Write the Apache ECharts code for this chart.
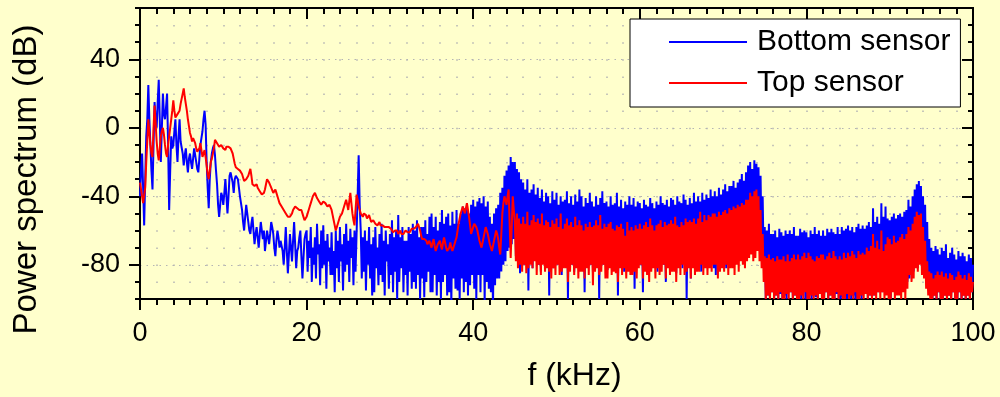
<!DOCTYPE html>
<html>
<head>
<meta charset="utf-8">
<title>Power spectrum</title>
<script src="https://cdn.jsdelivr.net/npm/echarts@6/dist/echarts.min.js"></script>
<style>
  html, body { margin: 0; padding: 0; background: #ffffcc; }
  #target { width: 1000px; height: 397px; }
</style>
</head>
<body>
<div id="target"></div>
<script>
// spectrum sampled every 0.125 kHz, 0 .. 100 kHz (801 points), one row per kHz
const FREQ_STEP = 0.125;
const seriesNames = ["Bottom sensor", "Top sensor"];
const xTicks = [0, 20, 40, 60, 80, 100];
const yTicks = [-80, -40, 0, 40];

// Bottom sensor (dB)
const bottomSensor = [
  -40, -25, -15, -35, -57, -30, -5, 5,
  25, 5, -10, -25, -36, -10, 15, 5,
  0, 15, 28, 5, -20, 0, 20, 8,
  5, 12, 20, -10, -48, -25, -5, -12,
  -10, -2, 5, -10, -20, -5, 5, -8,
  -7, -15, -22, -16, -12, -20, -26, -18,
  -15, -20, -24, -18, -12, -16, -20, -24,
  -26, -18, -10, -6, -2, 5, 10, 2,
  -20, -35, -47, -30, -20, -15, -12, -10,
  -16, -25, -33, -45, -52, -45, -38, -40,
  -45, -38, -30, -40, -50, -40, -28, -26,
  -26, -32, -38, -30, -28, -27, -30, -35,
  -40, -44, -48, -55, -60, -52, -45, -50,
  -55, -60, -62, -56, -52, -60, -68, -62,
  -58, -64, -70, -62, -55, -60, -65, -60,
  -72, -66, -60, -64, -68, -62, -55, -58,
  -62, -70, -75, -66, -60, -64, -70, -66,
  -65, -72, -80, -70, -58, -72, -85, -74,
  -62, -70, -78, -66, -55, -68, -82, -72,
  -70, -64, -60, -75, -88, -76, -65, -62,
  -60, -84, -66, -76, -58, -90, -70, -80,
  -64, -88, -56, -74, -68, -92, -60, -82,
  -57, -80, -66, -94, -62, -78, -70, -86,
  -61, -86, -72, -96, -60, -82, -66, -90,
  -58, -78, -68, -95, -62, -84, -56, -80,
  -66, -90, -59, -76, -64, -92, -60, -84,
  -62, -40, -16, -45, -60, -88, -64, -84,
  -60, -95, -66, -80, -58, -88, -68, -98,
  -64, -96, -58, -82, -70, -92, -62, -86,
  -56, -90, -66, -98, -60, -78, -68, -94,
  -62, -86, -54, -96, -64, -84, -60, -100,
  -51, -90, -64, -82, -58, -96, -66, -86,
  -66, -98, -58, -84, -62, -94, -56, -90,
  -60, -94, -54, -86, -64, -100, -58, -88,
  -58, -99, -54, -90, -62, -84, -52, -96,
  -50, -96, -58, -86, -52, -98, -60, -90,
  -55, -100, -48, -90, -56, -86, -52, -98,
  -50, -96, -57, -103, -49, -88, -56, -94,
  -48, -95, -56, -100, -50, -88, -46, -96,
  -47, -90, -44, -98, -50, -92, -45, -86,
  -42, -94, -46, -100, -43, -86, -41, -96,
  -44, -86, -40, -102, -46, -90, -43, -94,
  -52, -96, -56, -106, -50, -92, -47, -88,
  -45, -88, -38, -84, -35, -80, -28, -78,
  -25, -72, -22, -70, -17, -68, -20, -65,
  -20, -75, -24, -70, -26, -85, -30, -72,
  -32, -80, -36, -72, -30, -95, -38, -78,
  -36, -82, -33, -74, -39, -78, -35, -80,
  -41, -84, -36, -76, -43, -80, -38, -78,
  -40, -98, -44, -76, -37, -82, -42, -78,
  -38, -80, -45, -76, -40, -86, -43, -74,
  -42, -78, -37, -100, -44, -76, -40, -80,
  -45, -84, -39, -78, -43, -76, -36, -80,
  -40, -82, -46, -96, -41, -78, -44, -76,
  -38, -80, -43, -84, -46, -74, -40, -78,
  -45, -100, -41, -78, -37, -80, -44, -76,
  -43, -83, -46, -76, -40, -78, -45, -82,
  -44, -80, -38, -98, -46, -74, -42, -78,
  -47, -84, -43, -80, -45, -76, -40, -78,
  -45, -82, -41, -94, -46, -76, -43, -80,
  -44, -80, -47, -96, -42, -75, -45, -78,
  -46, -75, -41, -82, -44, -78, -47, -76,
  -43, -84, -45, -78, -40, -74, -44, -80,
  -45, -90, -42, -80, -46, -76, -41, -78,
  -42, -78, -45, -85, -40, -74, -43, -80,
  -44, -82, -39, -76, -42, -100, -45, -78,
  -41, -88, -44, -80, -38, -74, -43, -78,
  -40, -76, -43, -84, -38, -78, -42, -74,
  -39, -80, -41, -78, -36, -76, -40, -82,
  -37, -86, -40, -75, -35, -78, -39, -74,
  -36, -78, -33, -82, -37, -74, -34, -76,
  -34, -75, -31, -80, -35, -72, -32, -76,
  -30, -72, -27, -76, -31, -70, -26, -74,
  -22, -70, -20, -68, -24, -66, -19, -70,
  -21, -66, -23, -70, -28, -74, -40, -80,
  -58, -100, -60, -98, -56, -100, -62, -96,
  -62, -100, -60, -98, -64, -100, -59, -97,
  -61, -100, -63, -98, -60, -100, -62, -96,
  -60, -96, -62, -100, -58, -98, -63, -100,
  -63, -98, -59, -100, -61, -96, -60, -100,
  -61, -100, -64, -97, -60, -100, -62, -98,
  -58, -99, -62, -100, -60, -96, -63, -100,
  -60, -100, -63, -96, -59, -100, -61, -98,
  -59, -98, -61, -100, -62, -97, -58, -100,
  -62, -100, -58, -99, -60, -96, -59, -100,
  -57, -97, -60, -100, -58, -98, -61, -100,
  -58, -100, -56, -98, -59, -100, -57, -96,
  -59, -96, -57, -100, -55, -98, -58, -100,
  -47, -98, -55, -92, -52, -96, -56, -94,
  -44, -96, -52, -90, -46, -94, -53, -92,
  -54, -100, -52, -94, -50, -96, -53, -92,
  -51, -96, -50, -92, -52, -94, -49, -90,
  -48, -90, -42, -88, -46, -86, -40, -84,
  -36, -80, -33, -82, -31, -78, -34, -80,
  -40, -86, -45, -90, -55, -94, -65, -98,
  -70, -100, -72, -98, -69, -100, -71, -96,
  -74, -100, -70, -100, -72, -98, -68, -100,
  -76, -98, -73, -100, -70, -96, -74, -100,
  -77, -100, -72, -96, -75, -100, -73, -98,
  -75, -100, -78, -98, -74, -100, -76, -96,
  -80,
];

// Top sensor (dB)
const topSensor = [
  -32, -36, -40, -44, -45, -35, -20, -8,
  5, -3, -10, -15, -17, 0, 13, 3,
  -8, -15, -19, -12, -5, -2, 0, -4,
  -10, -15, -17, -10, -5, 0, 5, 10,
  16, 10, 6, 7, 8, 9, 10, 14,
  15, 20, 23, 18, 14, 10, 5, 1,
  -3, -5, -8, -6, -5, -9, -12, -14,
  -15, -12, -9, -13, -17, -15, -13, -17,
  -22, -27, -30, -25, -20, -18, -17, -12,
  -7, -8, -9, -10, -11, -10, -10, -11,
  -12, -13, -13, -11, -10, -11, -11, -12,
  -12, -15, -18, -21, -23, -24, -24, -25,
  -25, -26, -27, -29, -31, -31, -30, -29,
  -28, -26, -24, -28, -33, -34, -34, -33,
  -33, -35, -36, -37, -38, -39, -40, -38,
  -36, -33, -30, -31, -32, -33, -35, -36,
  -38, -37, -36, -38, -40, -42, -44, -45,
  -46, -47, -48, -49, -50, -51, -52, -52,
  -52, -51, -50, -48, -47, -46, -46, -47,
  -48, -48, -47, -48, -50, -52, -54, -53,
  -52, -50, -48, -46, -44, -42, -40, -39,
  -38, -39, -41, -42, -43, -44, -45, -44,
  -43, -43, -44, -45, -46, -46, -45, -46,
  -48, -51, -54, -57, -60, -58, -56, -54,
  -52, -51, -50, -48, -46, -44, -42, -45,
  -48, -43, -38, -44, -50, -54, -57, -48,
  -39, -42, -46, -48, -50, -51, -52, -50,
  -49, -51, -53, -52, -51, -53, -55, -54,
  -54, -55, -56, -57, -57, -56, -55, -57,
  -58, -57, -56, -58, -59, -58, -57, -58,
  -58, -59, -60, -61, -61, -60, -59, -60,
  -62, -61, -60, -62, -63, -62, -61, -60,
  -59, -61, -62, -61, -60, -59, -58, -59,
  -60, -58, -57, -56, -56, -60, -63, -65,
  -66, -65, -64, -66, -68, -67, -66, -68,
  -70, -67, -65, -69, -72, -70, -68, -67,
  -66, -69, -71, -67, -64, -67, -70, -72,
  -73, -70, -67, -70, -72, -70, -68, -66,
  -64, -60, -56, -53, -50, -48, -46, -45,
  -50, -47, -44, -48, -52, -57, -62, -60,
  -58, -56, -55, -58, -60, -63, -66, -68,
  -70, -67, -64, -61, -58, -60, -62, -65,
  -68, -70, -72, -69, -66, -63, -60, -62,
  -65, -70, -74, -62, -50, -44, -40, -42,
  -45, -40, -36, -56, -76, -58, -40, -48,
  -55, -78, -50, -82, -53, -80, -56, -84,
  -52, -80, -56, -85, -49, -82, -57, -80,
  -54, -82, -51, -78, -55, -86, -53, -80,
  -56, -86, -50, -80, -57, -84, -54, -82,
  -55, -84, -58, -88, -54, -82, -56, -86,
  -53, -80, -58, -86, -50, -84, -59, -82,
  -56, -82, -53, -90, -57, -84, -55, -80,
  -58, -86, -52, -82, -57, -88, -54, -84,
  -57, -84, -60, -88, -56, -82, -58, -86,
  -55, -80, -58, -92, -57, -84, -54, -82,
  -57, -86, -51, -84, -59, -80, -56, -88,
  -58, -88, -56, -82, -55, -86, -59, -84,
  -60, -85, -57, -90, -58, -82, -56, -86,
  -59, -82, -63, -88, -55, -84, -60, -86,
  -58, -86, -60, -84, -57, -88, -59, -82,
  -56, -80, -59, -88, -57, -84, -55, -86,
  -58, -90, -53, -84, -57, -82, -60, -88,
  -57, -82, -56, -86, -54, -84, -58, -80,
  -55, -88, -57, -82, -56, -86, -54, -84,
  -56, -84, -52, -90, -57, -82, -58, -86,
  -55, -80, -57, -86, -53, -84, -55, -82,
  -54, -88, -55, -82, -53, -86, -56, -84,
  -53, -84, -49, -80, -55, -86, -51, -82,
  -54, -86, -51, -82, -52, -84, -50, -80,
  -50, -80, -52, -88, -49, -84, -51, -82,
  -49, -84, -48, -80, -50, -86, -47, -82,
  -48, -82, -46, -86, -47, -80, -45, -84,
  -46, -78, -44, -80, -45, -82, -42, -78,
  -42, -76, -38, -74, -40, -78, -37, -76,
  -36, -72, -40, -78, -48, -82, -62, -90,
  -75, -100, -76, -98, -74, -100, -77, -96,
  -76, -100, -78, -98, -75, -100, -77, -96,
  -77, -100, -75, -100, -78, -97, -74, -100,
  -78, -96, -76, -100, -74, -98, -77, -100,
  -74, -100, -77, -98, -75, -100, -73, -96,
  -76, -100, -73, -100, -75, -98, -77, -100,
  -78, -98, -75, -100, -76, -97, -74, -100,
  -74, -100, -77, -96, -75, -100, -73, -98,
  -76, -100, -72, -100, -75, -96, -77, -100,
  -75, -98, -77, -100, -73, -100, -76, -97,
  -73, -100, -75, -98, -72, -100, -74, -96,
  -76, -100, -72, -100, -74, -98, -73, -100,
  -74, -97, -70, -100, -72, -98, -69, -100,
  -62, -98, -70, -100, -66, -96, -71, -100,
  -60, -96, -72, -100, -68, -98, -64, -100,
  -65, -100, -68, -96, -63, -100, -67, -98,
  -66, -98, -64, -100, -62, -96, -65, -100,
  -62, -94, -58, -86, -60, -90, -56, -88,
  -52, -82, -49, -84, -51, -80, -50, -86,
  -58, -88, -66, -94, -78, -98, -84, -100,
  -85, -100, -88, -98, -86, -100, -84, -96,
  -86, -100, -84, -100, -87, -98, -85, -100,
  -88, -98, -85, -100, -86, -96, -89, -100,
  -87, -100, -84, -96, -86, -100, -88, -98,
  -86, -100, -89, -98, -85, -100, -87, -96,
  -90,
];

const FONT = '"Liberation Sans", Arial, sans-serif';
const DOT = "#b4b4b4";
const toPairs = (arr) => arr.map((v, i) => [i * FREQ_STEP, v]);

let mChart = null;

const yAxisBase = (position, inside, tickLen, custom) => ({
  type: "value",
  position: position,
  min: -100,
  max: 70,
  interval: 10,
  axisLine: { show: true, onZero: false, lineStyle: { color: "#000", width: 2 } },
  axisTick: custom
    ? { show: true, inside: inside, length: tickLen, customValues: yTicks, lineStyle: { color: "#000", width: 2 } }
    : { show: true, inside: inside, length: tickLen, lineStyle: { color: "#000", width: 2 } },
  axisLabel: { show: false },
  splitLine: { show: false },
});

const renderChart = () => {
  const leftMain = yAxisBase("left", false, 5, false);
  leftMain.axisLabel = {
    show: true,
    color: "#000",
    fontSize: 27,
    fontFamily: FONT,
    margin: 20,
    formatter: (v) => (yTicks.indexOf(v) >= 0 ? String(v) : ""),
  };
  leftMain.name = "Power spectrum (dB)";
  leftMain.nameLocation = "middle";
  leftMain.nameGap = 97;
  // the title sits a little below the middle of the axis
  leftMain.nameTextStyle = { color: "#000", fontSize: 33, fontFamily: FONT, padding: [0, 52, 0, 0] };
  // dotted horizontal lines only at the labelled values (-80, -40, 0, 40)
  leftMain.splitLine = {
    show: true,
    lineStyle: { color: ["transparent", "transparent", DOT, "transparent"], width: 1, type: [1.5, 5] },
  };

  mChart.setOption({
    animation: false,
    backgroundColor: "#ffffcc",
    grid: { left: 140, right: 27, top: 8, bottom: 98, containLabel: false },
    legend: {
      data: seriesNames.map((n) => ({ name: n, icon: "rect" })),
      orient: "vertical",
      left: 630,
      top: 19,
      padding: [6, 10, 7, 39],
      itemGap: 7,
      itemWidth: 78,
      itemHeight: 2,
      backgroundColor: "#fff",
      borderColor: "#000",
      borderWidth: 1,
      borderRadius: 0,
      textStyle: { color: "#000", fontSize: 30, fontFamily: FONT, lineHeight: 34, padding: [0, 0, 0, 5] },
    },
    xAxis: [
      {
        type: "value",
        position: "bottom",
        min: 0,
        max: 100,
        interval: 20,
        name: "f (kHz)",
        nameLocation: "middle",
        nameGap: 61,
        nameTextStyle: { color: "#000", fontSize: 32, fontFamily: FONT, padding: [0, 0, 0, 36] },
        axisLine: { show: true, onZero: false, lineStyle: { color: "#000", width: 2 } },
        axisTick: { show: true, inside: false, length: 11, lineStyle: { color: "#000", width: 2 } },
        minorTick: { show: true, splitNumber: 10, length: 6, lineStyle: { color: "#000", width: 2 } },
        axisLabel: { color: "#000", fontSize: 27, fontFamily: FONT, margin: 21 },
        splitLine: { show: true, lineStyle: { color: DOT, width: 1.5, type: [1.5, 15.6] } },
        minorSplitLine: { show: true, lineStyle: { color: DOT, width: 1.5, type: [1.5, 15.6] } },
      },
      {
        type: "value",
        position: "top",
        min: 0,
        max: 100,
        interval: 20,
        axisLine: { show: true, onZero: false, lineStyle: { color: "#000", width: 2 } },
        axisTick: { show: true, inside: true, length: 11, lineStyle: { color: "#000", width: 2 } },
        minorTick: { show: true, splitNumber: 10, length: 6, lineStyle: { color: "#000", width: 2 } },
        axisLabel: { show: false },
        splitLine: { show: false },
      },
    ],
    yAxis: [
      leftMain,
      yAxisBase("left", false, 11, true),
      yAxisBase("right", true, 5, false),
      yAxisBase("right", true, 11, true),
    ],
    series: [
      {
        name: seriesNames[0],
        type: "line",
        data: toPairs(bottomSensor),
        showSymbol: false,
        symbol: "none",
        lineStyle: { color: "#0000ff", width: 2 },
        itemStyle: { color: "#0000ff" },
        clip: true,
        z: 2,
      },
      {
        name: seriesNames[1],
        type: "line",
        data: toPairs(topSensor),
        showSymbol: false,
        symbol: "none",
        lineStyle: { color: "#ff0000", width: 2 },
        itemStyle: { color: "#ff0000" },
        clip: true,
        z: 3,
      },
    ],
  });
};

mChart = echarts.init(document.getElementById("target"));
renderChart();
</script>
</body>
</html>
